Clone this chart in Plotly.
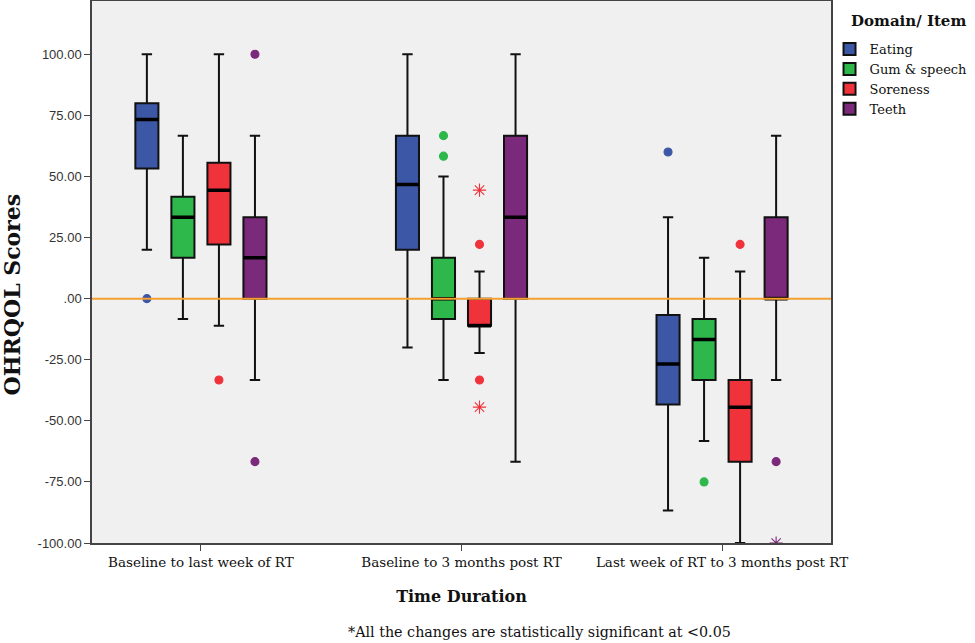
import plotly.graph_objects as go

categories = ["Baseline to last week of RT", "Baseline to 3 months post RT",
              "Last week of RT to 3 months post RT"]
domains = ["Eating", "Gum & speech", "Soreness", "Teeth"]
colors = ["#3d57a7", "#2eb84b", "#f0333b", "#7b2a7b"]
asterisk_colors = ["#7d94d0", "#70d484", "#f77a7e", "#ab78ab"]

# box statistics per domain, one value per category
upper = {"Eating": [100, 100, 33.3], "Gum & speech": [66.7, 50, 16.7],
         "Soreness": [100, 11.1, 11.1], "Teeth": [66.7, 100, 66.7]}
q3 = {"Eating": [80, 66.7, -6.7], "Gum & speech": [41.7, 16.7, -8.3],
      "Soreness": [55.6, 0, -33.3], "Teeth": [33.3, 66.7, 33.3]}
median = {"Eating": [73.3, 46.7, -26.7], "Gum & speech": [33.3, 0, -16.7],
          "Soreness": [44.4, -11.1, -44.4], "Teeth": [16.7, 33.3, 0]}
q1 = {"Eating": [53.3, 20, -43.3], "Gum & speech": [16.7, -8.3, -33.3],
      "Soreness": [22.2, -11.1, -66.7], "Teeth": [0, 0, 0]}
lower = {"Eating": [20, -20, -86.7], "Gum & speech": [-8.3, -33.3, -58.3],
         "Soreness": [-11.1, -22.2, -100], "Teeth": [-33.3, -66.7, -33.3]}

# outliers: (category index, value, kind) kind: o = outlier, x = extreme
outliers = {
    "Eating": [(0, 0, "o"), (2, 60, "o")],
    "Gum & speech": [(1, 58.3, "o"), (1, 66.7, "o"), (2, -75, "o")],
    "Soreness": [(0, -33.3, "o"), (1, 22.2, "o"), (1, 44.4, "x"),
                 (1, -33.3, "o"), (1, -44.4, "x"), (2, 22.2, "o")],
    "Teeth": [(0, 100, "o"), (0, -66.7, "o"), (2, -66.7, "o"), (2, -100, "x")],
}

ytick_vals = [100, 75, 50, 25, 0, -25, -50, -75, -100]
ytick_text = ["100.00", "75.00", "50.00", "25.00", ".00", "-25.00", "-50.00",
              "-75.00", "-100.00"]

serif = "DejaVu Serif, serif"
sans = "Liberation Sans, Arial, sans-serif"

fig = go.Figure()
for d, c in zip(domains, colors):
    fig.add_trace(go.Box(
        x=categories, q1=q1[d], median=median[d], q3=q3[d],
        lowerfence=lower[d], upperfence=upper[d], name=d,
        fillcolor=c, line=dict(color="#111111", width=2),
        whiskerwidth=0.45, offsetgroup=d, alignmentgroup="a",
        boxpoints=False, hoverinfo="y",
    ))
# thick median bars drawn over each box
for d in domains:
    fig.add_trace(go.Box(
        x=categories, q1=median[d], median=median[d], q3=median[d],
        lowerfence=median[d], upperfence=median[d], name=d + " median",
        fillcolor="rgba(0,0,0,0)", line=dict(color="#000000", width=3.5),
        whiskerwidth=0.01, offsetgroup=d, alignmentgroup="a",
        boxpoints=False, showlegend=False, hoverinfo="skip",
    ))
for d, c, ca in zip(domains, colors, asterisk_colors):
    pts = outliers[d]
    fig.add_trace(go.Scatter(
        x=[categories[p[0]] for p in pts], y=[p[1] for p in pts],
        mode="markers", showlegend=False, offsetgroup=d, alignmentgroup="a",
        opacity=1,
        marker=dict(
            symbol=["circle" if p[2] == "o" else "asterisk-open" for p in pts],
            size=[8 if p[2] == "o" else 11 for p in pts],
            color=c, opacity=1,
            line=dict(color=[c if p[2] == "o" else ca for p in pts], width=1.1),
        ),
    ))

fig.add_shape(type="line", xref="paper", x0=0, x1=1, yref="y", y0=0, y1=0,
              line=dict(color="#f5a030", width=2), layer="above")

fig.update_layout(
    width=975, height=643,
    margin=dict(l=92, r=144, t=1, b=100, autoexpand=False),
    paper_bgcolor="white", plot_bgcolor="#f0f0f0",
    boxmode="group", boxgap=0.447, boxgroupgap=0.36,
    scattermode="group", scattergap=0.447,
    showlegend=True,
    legend=dict(
        x=0.998, y=0.939, xanchor="left", yanchor="top",
        font=dict(family=serif, size=13, color="#111"),
        tracegroupgap=0, itemwidth=30, bgcolor="rgba(0,0,0,0)",
    ),
    xaxis=dict(
        type="category", range=[-0.418, 2.418],
        showline=True, mirror=True, linecolor="#444", linewidth=1.5,
        ticks="outside", ticklen=6, tickcolor="#444",
        tickfont=dict(family=serif, size=13.5, color="#111"),
        title=dict(text="<b>Time Duration</b>", font=dict(family=serif, size=16, color="#111"),
                   standoff=22),
        showgrid=False, zeroline=False,
    ),
    yaxis=dict(
        range=[-100, 121.8],
        tickvals=ytick_vals, ticktext=ytick_text,
        showline=True, mirror=True, linecolor="#444", linewidth=1.5,
        ticks="outside", ticklen=6, tickcolor="#444",
        tickfont=dict(family=sans, size=13, color="#333"),
        showgrid=False, zeroline=False,
    ),
    annotations=[
        dict(text="*All the changes are statistically significant at <0.05",
             xref="paper", yref="paper", x=0.606, y=-0.165, xanchor="center",
             yanchor="middle", showarrow=False,
             font=dict(family=serif, size=14.3, color="#111")),
        dict(text="<b>OHRQOL Scores</b>", textangle=-90,
             xref="paper", yref="paper", x=-0.108, y=0.459, xanchor="center",
             yanchor="middle", showarrow=False,
             font=dict(family=serif, size=22, color="#111")),
        dict(text="<b>Domain/ Item</b>",
             xref="paper", yref="paper", x=1.024, y=0.963, xanchor="left",
             yanchor="middle", showarrow=False,
             font=dict(family=serif, size=15, color="#111")),
    ],
)

fig.write_html("out.html", config={"displayModeBar": False},
               post_script="document.body.style.margin='0px';")
